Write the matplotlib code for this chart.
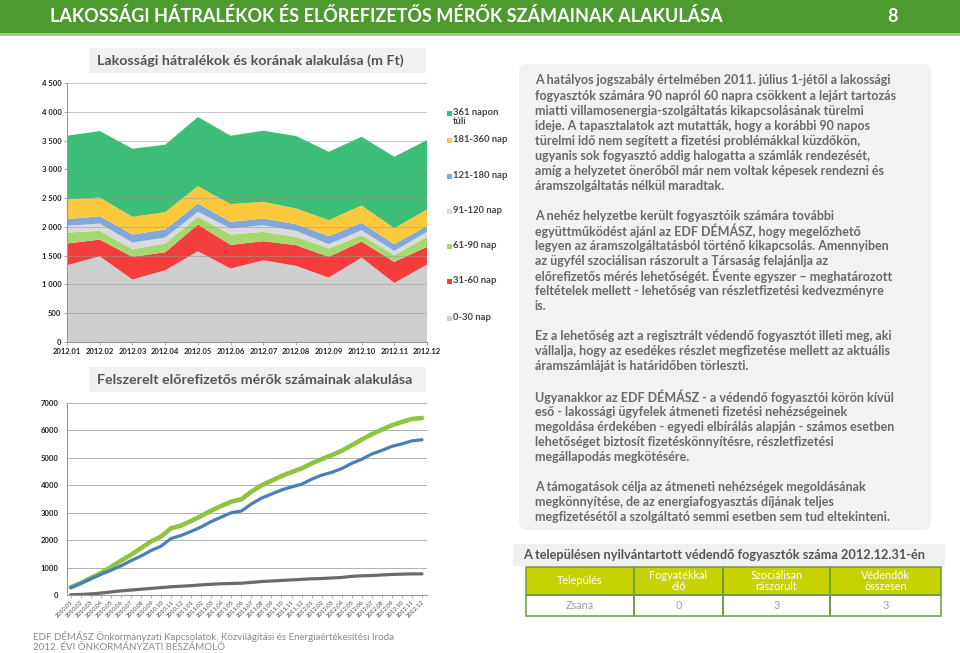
import matplotlib
matplotlib.use('Agg')
import matplotlib.pyplot as plt
from matplotlib.patches import Rectangle, FancyBboxPatch

plt.rcParams['font.family'] = ['Lato', 'DejaVu Sans']

# ---------------- data ----------------
months_2012 = ['2012.01', '2012.02', '2012.03', '2012.04', '2012.05', '2012.06',
               '2012.07', '2012.08', '2012.09', '2012.10', '2012.11', '2012.12']
age_labels = ['0-30 nap', '31-60 nap', '61-90 nap', '91-120 nap',
              '121-180 nap', '181-360 nap', '361 napon\ntúli']
d_0_30 = [1334, 1490, 1085, 1247, 1577, 1276, 1421, 1322, 1119, 1467, 1026, 1345]
d_31_60 = [377, 290, 394, 313, 464, 411, 330, 360, 360, 278, 366, 308]
d_61_90 = [191, 151, 133, 151, 134, 180, 163, 145, 145, 111, 116, 174]
d_91_120 = [116, 128, 116, 104, 87, 105, 116, 104, 75, 87, 75, 87]
d_121_180 = [116, 127, 139, 139, 145, 116, 116, 116, 139, 127, 116, 104]
d_181_360 = [342, 325, 308, 302, 301, 307, 290, 273, 279, 302, 279, 284]
d_361 = [1108, 1154, 1183, 1171, 1201, 1189, 1235, 1258, 1188, 1194, 1240, 1206]

meter_months = ['2010.01', '2010.02', '2010.03', '2010.04', '2010.05', '2010.06',
                '2010.07', '2010.08', '2010.09', '2010.10', '2010.11', '2010.12',
                '2011.01', '2011.02', '2011.03', '2011.04', '2011.05', '2011.06',
                '2011.07', '2011.08', '2011.09', '2011.10', '2011.11', '2011.12',
                '2012.01', '2012.02', '2012.03', '2012.04', '2012.05', '2012.06',
                '2012.07', '2012.08', '2012.09', '2012.10', '2012.11', '2012.12']
egy_fazisu = [270, 420, 590, 750, 900, 1060, 1250, 1420, 1620, 1780, 2060, 2170,
              2320, 2480, 2680, 2840, 3000, 3060, 3320, 3530, 3680, 3830, 3940, 4040,
              4220, 4370, 4470, 4610, 4800, 4950, 5140, 5270, 5420, 5510, 5620, 5660]
harom_fazisu = [10, 20, 40, 70, 110, 150, 180, 210, 240, 270, 300, 320,
                340, 370, 390, 410, 420, 430, 460, 490, 510, 530, 550, 570,
                590, 600, 620, 640, 680, 700, 710, 730, 750, 760, 770, 770]
osszes = [280, 436, 618, 800, 1017, 1247, 1465, 1708, 1950, 2131, 2434, 2531,
          2700, 2882, 3076, 3245, 3403, 3488, 3766, 3996, 4166, 4335, 4481, 4614,
          4796, 4953, 5098, 5256, 5461, 5667, 5861, 6031, 6188, 6309, 6418, 6455]
meter_labels = ['egy fázisú (db)', 'három fázisú (db)', 'összes felszerelt mérő (db)']

table_header = ['Település', 'Fogyatékkal\nélő', 'Szociálisan\nrászorult', 'Védendők\nösszesen']
table_row = ['Zsana', '0', '3', '3']

paragraphs = [
    ["A hatályos jogszabály értelmében 2011. július 1-jétől a lakossági",
     "fogyasztók számára 90 napról 60 napra csökkent a lejárt tartozás",
     "miatti villamosenergia-szolgáltatás kikapcsolásának türelmi",
     "ideje. A tapasztalatok azt mutatták, hogy a korábbi 90 napos",
     "türelmi idő nem segített a fizetési problémákkal küzdőkön,",
     "ugyanis sok fogyasztó addig halogatta a számlák rendezését,",
     "amíg a helyzetet önerőből már nem voltak képesek rendezni és",
     "áramszolgáltatás nélkül maradtak."],
    ["A nehéz helyzetbe került fogyasztóik számára további",
     "együttműködést ajánl az EDF DÉMÁSZ, hogy megelőzhető",
     "legyen az áramszolgáltatásból történő kikapcsolás. Amennyiben",
     "az ügyfél szociálisan rászorult a Társaság felajánlja az",
     "előrefizetős mérés lehetőségét. Évente egyszer – meghatározott",
     "feltételek mellett - lehetőség van részletfizetési kedvezményre",
     "is."],
    ["Ez a lehetőség azt a regisztrált védendő fogyasztót illeti meg, aki",
     "vállalja, hogy az esedékes részlet megfizetése mellett az aktuális",
     "áramszámláját is határidőben törleszti."],
    ["Ugyanakkor az EDF DÉMÁSZ - a védendő fogyasztói körön kívül",
     "eső - lakossági ügyfelek átmeneti fizetési nehézségeinek",
     "megoldása érdekében - egyedi elbírálás alapján - számos esetben",
     "lehetőséget biztosít fizetéskönnyítésre, részletfizetési",
     "megállapodás megkötésére."],
    ["A támogatások célja az átmeneti nehézségek megoldásának",
     "megkönnyítése, de az energiafogyasztás díjának teljes",
     "megfizetésétől a szolgáltató semmi esetben sem tud eltekinteni."],
]

# ---------------- figure ----------------
W, H = 960, 653
fig = plt.figure(figsize=(9.6, 6.53), dpi=100)
fig.patch.set_facecolor('white')

bg = fig.add_axes([0, 0, 1, 1])
bg.set_xlim(0, W)
bg.set_ylim(H, 0)
bg.axis('off')


def ax_px(x0, y0, x1, y1):
    return fig.add_axes([x0 / W, 1 - y1 / H, (x1 - x0) / W, (y1 - y0) / H])


# header
bg.add_patch(Rectangle((0, 0), W, 33, color='#4d9a2f', lw=0))
bg.add_patch(Rectangle((0, 33), W, 3, color='#9fcd73', lw=0))
bg.text(50, 16.5, 'LAKOSSÁGI HÁTRALÉKOK ÉS ELŐREFIZETŐS MÉRŐK SZÁMAINAK ALAKULÁSA',
        color='white', fontsize=13, fontweight='bold', va='center', ha='left')
bg.text(893, 16.5, '8', color='white', fontsize=13, fontweight='bold', va='center',
        ha='center')

# ---------------- top chart ----------------
area_colors = ['#cfcfcf', '#f43d3d', '#a7d870', '#dadada', '#7fa8dc', '#fcc93c', '#3dbe76']
bg.add_patch(Rectangle((89, 48), 337, 25, color='#f0f0f0', lw=0))
bg.text(97, 60.5, 'Lakossági hátralékok és korának alakulása (m Ft)', color='#555555',
        fontsize=10.3, fontweight='bold', va='center', ha='left')

ax1 = ax_px(67, 83, 427, 342)
x1 = list(range(len(months_2012)))
ax1.stackplot(x1, d_0_30, d_31_60, d_61_90, d_91_120, d_121_180, d_181_360, d_361,
              colors=area_colors, lw=0)
ax1.set_xlim(0, len(months_2012) - 1)
ax1.set_ylim(0, 4500)
yt = list(range(0, 4501, 500))
ax1.set_yticks(yt)
ax1.set_yticklabels([f"{v:,}".replace(',', ' ') for v in yt])
ax1.set_xticks(x1)
ax1.set_xticklabels(months_2012)
for v in yt[1:]:
    ax1.axhline(v, color='#9a9a9a', lw=0.7, alpha=0.55, zorder=5)
for s in ['top', 'right']:
    ax1.spines[s].set_visible(False)
ax1.spines['left'].set_color('#999999')
ax1.spines['bottom'].set_color('#999999')
ax1.tick_params(axis='both', labelsize=5.5, colors='#999999', labelcolor='#222222',
                length=2, width=0.6, pad=2)
for lab in ax1.get_xticklabels() + ax1.get_yticklabels():
    lab.set_fontweight('bold')

# legend (top to bottom: 361+, ..., 0-30)
leg_y = [318, 281, 246, 211, 176, 140, 113]
for lab, col, yy in zip(age_labels, area_colors, leg_y):
    bg.add_patch(Rectangle((446.5, yy - 2.5), 5, 5, color=col, lw=0))
    bg.text(453, yy - 0.5 if '\n' not in lab else yy + 4, lab, fontsize=6.8, fontweight='bold',
            color='#444444', va='center', ha='left', linespacing=1.1)

# ---------------- bottom chart ----------------
bg.add_patch(Rectangle((89, 367), 337, 25, color='#f0f0f0', lw=0))
bg.text(97, 379.5, 'Felszerelt előrefizetős mérők számainak alakulása', color='#555555',
        fontsize=10.3, fontweight='bold', va='center', ha='left')

ax2 = ax_px(67, 403, 427, 595)
x2 = list(range(len(meter_months)))
line_colors = ['#4a7ebb', '#6b6b6b', '#8fc43f']
line_widths = [2.3, 2.3, 3.3]
ax2.plot(x2, egy_fazisu, color=line_colors[0], lw=line_widths[0], solid_capstyle='round', zorder=3)
ax2.plot(x2, harom_fazisu, color=line_colors[1], lw=line_widths[1], solid_capstyle='round', zorder=3)
ax2.plot(x2, osszes, color=line_colors[2], lw=line_widths[2], solid_capstyle='round', zorder=2)
ax2.set_xlim(-0.37, len(meter_months) - 0.5)
ax2.set_ylim(0, 7000)
ax2.set_yticks(range(0, 7001, 1000))
ax2.set_yticklabels([str(v) for v in range(0, 7001, 1000)])
ax2.yaxis.grid(True, color='#b0b0b0', lw=0.7)
ax2.set_axisbelow(True)
ax2.set_xticks(x2)
ax2.set_xticklabels(meter_months, rotation=45, ha='right', rotation_mode='anchor')
for s in ['top', 'right']:
    ax2.spines[s].set_visible(False)
ax2.spines['left'].set_color('#999999')
ax2.spines['bottom'].set_color('#999999')
ax2.tick_params(axis='y', labelsize=5.5, colors='#999999', labelcolor='#222222',
                length=0, pad=6)
ax2.tick_params(axis='x', labelsize=4.3, colors='#999999', labelcolor='#444444',
                length=2, width=0.5, pad=1.5)
for lab in ax2.get_yticklabels():
    lab.set_fontweight('bold')

leg2_x = [95, 172, 263]
for lab, col, lw_, xx in zip(meter_labels, line_colors, line_widths, leg2_x):
    bg.plot([xx, xx + 12], [416, 416], color=col, lw=lw_, solid_capstyle='butt')
    bg.text(xx + 12.5, 416, lab, fontsize=5.9, fontweight='bold', color='#222222',
            va='center', ha='left')

# footer
bg.text(33, 636, 'EDF DÉMÁSZ Önkormányzati Kapcsolatok, Közvilágítási és Energiaértékesítési Iroda',
        fontsize=7, color='#8a8a8a', va='center', ha='left')
bg.text(33, 648, '2012. ÉVI ÖNKORMÁNYZATI BESZÁMOLÓ',
        fontsize=7, color='#8a8a8a', va='center', ha='left')

# ---------------- right text panel ----------------
bg.add_patch(FancyBboxPatch((519, 64), 412, 466, boxstyle='round,pad=0,rounding_size=8',
                            color='#f2f2f2', lw=0))
y = 80.5
step = 15.05
for pi, para in enumerate(paragraphs):
    for line in para:
        bg.text(535, y, line, fontsize=9.0, fontweight='bold', color='#6a6a6a',
                va='center', ha='left')
        y += step
    y += step

# ---------------- table ----------------
bg.add_patch(Rectangle((513, 544), 432, 22, color='#f0f0f0', lw=0))
bg.text(523, 555, 'A településen nyilvántartott védendő fogyasztók száma 2012.12.31-én',
        fontsize=9.2, fontweight='bold', color='#555555', va='center', ha='left')
col_x = [526, 634, 723, 830, 941]
hy0, hy1, ry1 = 567, 595, 616
bg.add_patch(Rectangle((col_x[0], hy0), col_x[-1] - col_x[0], hy1 - hy0, color='#c6d300', lw=0))
for i in range(len(table_header)):
    xa, xb = col_x[i], col_x[i + 1]
    bg.add_patch(Rectangle((xa, hy0), xb - xa, hy1 - hy0, fill=False, ec='#6a9c3c', lw=1.1))
    bg.add_patch(Rectangle((xa, hy1), xb - xa, ry1 - hy1, fill=False, ec='#6a9c3c', lw=1.1))
    bg.text((xa + xb) / 2, (hy0 + hy1) / 2, table_header[i], fontsize=7.8, color='white',
            va='center', ha='center', linespacing=0.95)
    bg.text((xa + xb) / 2, (hy1 + ry1) / 2, table_row[i], fontsize=7.8, color='#a0a0a0',
            va='center', ha='center')

fig.savefig('out.png', dpi=100, facecolor='white')
